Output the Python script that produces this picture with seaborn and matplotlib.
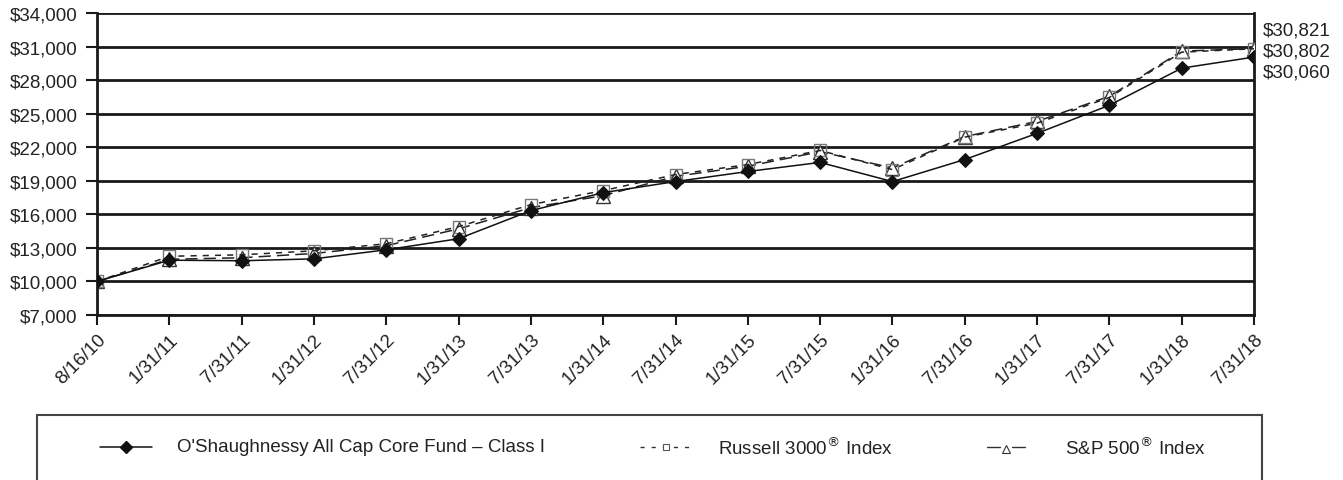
import matplotlib
matplotlib.use("Agg")
import matplotlib.pyplot as plt
from matplotlib.lines import Line2D
from matplotlib.patches import Rectangle
from matplotlib.ticker import FuncFormatter
import seaborn as sns
import numpy as np
import pandas as pd

dates = ["8/16/10", "1/31/11", "7/31/11", "1/31/12", "7/31/12", "1/31/13",
         "7/31/13", "1/31/14", "7/31/14", "1/31/15", "7/31/15", "1/31/16",
         "7/31/16", "1/31/17", "7/31/17", "1/31/18", "7/31/18"]
fund = [10000, 11900, 11850, 12020, 12830, 13820, 16330, 17940, 18930,
        19830, 20640, 18930, 20900, 23240, 25750, 29070, 30060]
russell = [10000, 12250, 12380, 12740, 13370, 14900, 16870, 18120, 19560,
           20450, 21710, 20000, 22900, 24150, 26450, 30500, 30802]
sp500 = [10000, 11980, 12120, 12500, 13200, 14700, 16600, 17670, 19400,
         20300, 21600, 20150, 22950, 24310, 26550, 30590, 30821]
yticks = list(range(7000, 34001, 3000))

sns.set_theme(style="white")
plt.rcParams["font.family"] = ["Liberation Sans", "DejaVu Sans"]

FS = 13.5
TXT = "#222222"

fig = plt.figure(figsize=(13.43, 4.81), dpi=100)
ax = fig.add_axes([97 / 1343, 1 - 316 / 481, (1254 - 97) / 1343, (316 - 14) / 481])

x = np.arange(len(dates))
df = pd.DataFrame({"x": x, "fund": fund, "russell": russell, "sp500": sp500})

# horizontal grid lines
for v in yticks:
    ax.axhline(v, color="#1a1a1a", lw=2.0, zorder=1)

sns.lineplot(data=df, x="x", y="sp500", ax=ax, color="#222222", lw=1.1,
             linestyle=(0, (8, 4)), marker="^", markersize=10,
             markerfacecolor="white", markeredgecolor="#333333",
             markeredgewidth=1.0, zorder=3)
sns.lineplot(data=df, x="x", y="russell", ax=ax, color="#222222", lw=1.1,
             linestyle=(0, (4, 4)), marker="s", markersize=8,
             markerfacecolor="none", markeredgecolor="#777777",
             markeredgewidth=1.0, zorder=4)
sns.lineplot(data=df, x="x", y="fund", ax=ax, color="#111111", lw=1.1,
             marker="D", markersize=7.5, markerfacecolor="#111111",
             markeredgecolor="#111111", zorder=5)

ax.set_xlim(0, len(dates) - 1)
ax.set_ylim(7000, 34000)
ax.set_yticks(yticks)
ax.yaxis.set_major_formatter(FuncFormatter(lambda v, p: f"${v:,.0f}"))
ax.set_xticks(x)
ax.set_xticklabels(dates, rotation=45, ha="right", va="top",
                   rotation_mode="anchor")
ax.set_xlabel("")
ax.set_ylabel("")
ax.tick_params(axis="y", direction="out", length=8, width=1.5, color="#1a1a1a",
               labelsize=FS, pad=6, left=True, labelcolor=TXT)
ax.tick_params(axis="x", direction="out", length=7, width=1.5, color="#1a1a1a",
               labelsize=FS, pad=4, bottom=True, labelcolor=TXT)
for side in ["left", "right", "bottom"]:
    ax.spines[side].set_visible(True)
    ax.spines[side].set_color("#1a1a1a")
    ax.spines[side].set_linewidth(2.0)
ax.spines["top"].set_visible(False)

# ending values
for yv, val in zip([31, 52, 73], [sp500[-1], russell[-1], fund[-1]]):
    fig.text(1263 / 1343, 1 - yv / 481, f"${val:,}", fontsize=FS,
             va="center", ha="left", color=TXT)

# legend box
fig.patches.append(Rectangle((37 / 1343, -0.2), (1262 - 37) / 1343, 0.2 + 1 - 416 / 481,
                             transform=fig.transFigure, fill=False,
                             edgecolor="#444444", lw=1.5))
ly = 1 - 448 / 481
tf = fig.transFigure
fig.lines.append(Line2D([100 / 1343, 152 / 1343], [ly, ly], transform=tf,
                        color="#111111", lw=1.1))
fig.lines.append(Line2D([126 / 1343], [ly], transform=tf, marker="D",
                        markersize=6, color="#111111"))
fig.text(177 / 1343, ly, "O'Shaughnessy All Cap Core Fund \u2013 Class I",
         fontsize=FS, va="center", ha="left", color=TXT)

fig.lines.append(Line2D([640 / 1343, 693 / 1343], [ly, ly], transform=tf,
                        color="#333333", lw=1.0, linestyle=(0, (3, 5))))
fig.lines.append(Line2D([666 / 1343], [ly], transform=tf, marker="s",
                        markersize=5, markerfacecolor="white",
                        markeredgecolor="#555555", markeredgewidth=0.8))
fig.text(718 / 1343, ly, "Russell 3000$^{\u00ae}$ Index",
         fontsize=FS, va="center", ha="left", color=TXT)

fig.lines.append(Line2D([987 / 1343, 1000 / 1343], [ly, ly], transform=tf,
                        color="#333333", lw=1.0))
fig.lines.append(Line2D([1012 / 1343, 1025 / 1343], [ly, ly], transform=tf,
                        color="#333333", lw=1.0))
fig.lines.append(Line2D([1006 / 1343], [ly - 0.004], transform=tf, marker="^",
                        markersize=6, markerfacecolor="white",
                        markeredgecolor="#333333", markeredgewidth=0.8))
fig.text(1065 / 1343, ly, "S&P 500$^{\u00ae}$ Index",
         fontsize=FS, va="center", ha="left", color=TXT)

fig.savefig("out.png", dpi=100)
